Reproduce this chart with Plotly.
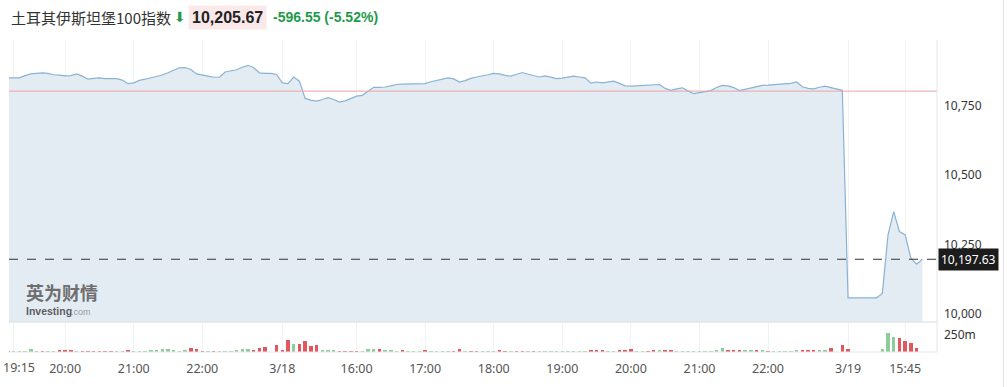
import plotly.graph_objects as go

# ---- data (5-minute bars, categorical positions) ----
price = [
    10850, 10849, 10850, 10858, 10864, 10866, 10868, 10866, 10861, 10860,
    10857, 10858, 10864, 10856, 10845, 10848, 10850, 10847, 10846, 10847,
    10842, 10829, 10832, 10841, 10845, 10850, 10854, 10860, 10868, 10876,
    10886, 10887, 10880, 10864, 10861, 10856, 10852, 10852, 10871, 10875,
    10879, 10888, 10895, 10886, 10868, 10866, 10866, 10862,
    # 3/18
    10832, 10829, 10853, 10838, 10776, 10770, 10766, 10772, 10779, 10772,
    10763, 10767, 10776, 10784, 10787, 10800, 10816, 10816, 10817, 10821,
    10826, 10827, 10828, 10828, 10829, 10829, 10836, 10840, 10845, 10850,
    10846, 10835, 10840, 10848, 10853, 10856, 10861, 10866, 10864, 10859,
    10856, 10863, 10869, 10863, 10857, 10853, 10857, 10851, 10847, 10849,
    10852, 10856, 10853, 10850, 10831, 10835, 10832, 10835, 10838, 10830,
    10821, 10820, 10821, 10822, 10822, 10825, 10826, 10812, 10805, 10810,
    10814, 10803, 10793, 10797, 10801, 10804, 10815, 10823, 10821, 10815,
    10804, 10809, 10814, 10818, 10823, 10824, 10826, 10827, 10828, 10830,
    10835, 10818, 10812, 10810, 10816, 10820, 10815, 10810, 10805,
    # 3/19
    10059, 10059, 10059, 10059, 10059, 10059, 10075, 10285, 10369, 10297,
    10285, 10201, 10180, 10197.63,
]

volume_m = [
    14, 6, 8, 14, 38, 10, 12, 10, 6, 24,
    29, 29, 8, 14, 14, 14, 12, 14, 12, 6,
    6, 33, 14, 14, 14, 24, 29, 38, 38, 33,
    10, 29, 57, 38, 14, 12, 14, 10, 12, 14,
    19, 38, 38, 29, 57, 72, 0, 105,
    # 3/18
    19, 181, 119, 119, 167, 86, 105, 19, 19, 19,
    14, 14, 12, 14, 12, 38, 48, 38, 19, 19,
    14, 24, 14, 12, 14, 24, 8, 6, 6, 6,
    12, 38, 8, 12, 14, 14, 12, 14, 19, 14,
    10, 14, 12, 14, 14, 6, 6, 6, 6, 5,
    5, 5, 5, 6, 29, 19, 19, 6, 6, 19,
    24, 38, 6, 10, 14, 19, 19, 24, 29, 8,
    6, 8, 6, 8, 10, 14, 29, 57, 33, 29,
    29, 24, 24, 19, 19, 14, 10, 8, 8, 10,
    24, 29, 29, 19, 24, 33, 55, 0, 100,
    # 3/19
    48, 0, 0, 0, 0, 0, 39, 286, 214, 204,
    157, 139, 53, 0,
]

# G = up bar, R = down bar (one letter per bar, grouped by 10)
direction = "".join([
    "RGGGGGRGGR", "RRGRRRRRRG", "GRGGGGGGGG", "GGRRRGRGGG", "GGGRRRRR",
    "RRGRRRRGGG", "RRRRGGGRGG", "GRGGGRGGGG", "RRGRRGGGRR", "GRRGRGGGGG",
    "GGGGRRRGGR", "RRGGRRGRRG", "GGGGGGGGRR", "RGGRGRGGGG", "GRRRGGRRR",
    "RGGGGGGGGR", "RRRR",
])

tick_idx = [1, 10, 22, 34, 48, 61, 73, 85, 97, 109, 121, 133, 147, 157]
tick_text = ["19:15", "20:00", "21:00", "22:00", "3/18", "16:00", "17:00",
             "18:00", "19:00", "20:00", "21:00", "22:00", "3/19", "15:45"]

price_ticks = [10000, 10250, 10500, 10750]
prev_close = 10802.22
last_price = 10197.63
header_price = "10,205.67"
header_change = "-596.55 (-5.52%)"
title = "土耳其伊斯坦堡100指数"

# ---- figure ----
W, H = 1007, 387
ML, MR, MT, MB = 9, 70, 40, 35
PW, PH = W - ML - MR, H - MT - MB
VOL_FRAC = 30 / PH

def px_x(px):
    return (px - ML) / PW

def px_y(py):
    return (H - MB - py) / PH

xs = list(range(len(price)))
UP, DOWN = "#8fcc9c", "#e0575f"
vol_colors = [UP if d == "G" else DOWN for d in direction]

fig = go.Figure()
fig.add_trace(go.Scatter(
    x=xs, y=price, mode="lines", fill="tozeroy",
    line=dict(color="#8ab2d6", width=1.2), fillcolor="#e4ecf3",
    xaxis="x", yaxis="y", hoverinfo="skip", showlegend=False,
))
fig.add_trace(go.Bar(
    x=xs, y=volume_m, marker=dict(color=vol_colors, line=dict(width=0)),
    width=0.6, xaxis="x", yaxis="y2", hoverinfo="skip", showlegend=False,
))

# the first tick label sits at the page edge: it is drawn as an annotation
axis_ticktext = [""] + tick_text[1:]

font = "Noto Sans, Noto Sans CJK SC, sans-serif"
fig.update_layout(
    width=W, height=H, autosize=False,
    margin=dict(l=ML, r=MR, t=MT, b=MB),
    paper_bgcolor="white", plot_bgcolor="white",
    font=dict(family=font, color="#333", size=12),
    bargap=0,
    xaxis=dict(
        domain=[0, 1], anchor="y2", range=[0.175, 162.57],
        tickmode="array", tickvals=tick_idx, ticktext=axis_ticktext,
        showgrid=True, gridcolor="#f1f2f4", gridwidth=1,
        zeroline=False, showline=False, ticks="",
        ticklabelstandoff=7, automargin=False,
        tickfont=dict(size=12.5, color="#555"),
    ),
    yaxis=dict(
        domain=[VOL_FRAC, 1], anchor="x", side="right",
        range=[9972, 10986], tickvals=price_ticks, tickformat=",",
        showgrid=False, zeroline=False, showline=False, ticks="",
        ticklabelstandoff=6, tickfont=dict(size=12, color="#333"),
    ),
    yaxis2=dict(
        domain=[0, VOL_FRAC], anchor="x", side="right",
        range=[0, 440], tickvals=[250], ticktext=["250m"],
        showgrid=False, zeroline=False, showline=False, ticks="",
        ticklabelstandoff=6, tickfont=dict(size=12, color="#333"),
    ),
)

shapes = [
    dict(type="line", xref="paper", yref="y", x0=0, x1=1, y0=prev_close, y1=prev_close,
         line=dict(color="#eaa3a6", width=1)),
    dict(type="line", xref="paper", yref="y", x0=0, x1=1, y0=last_price, y1=last_price,
         line=dict(color="#333", width=1, dash="dash")),
    dict(type="line", xref="paper", yref="paper", x0=0, x1=1, y0=VOL_FRAC, y1=VOL_FRAC,
         line=dict(color="#d5dbe2", width=1.2)),
    dict(type="line", xref="paper", yref="paper", x0=0, x1=1, y0=0, y1=0,
         line=dict(color="#e6e8eb", width=1)),
    dict(type="line", xref="paper", yref="paper", x0=1, x1=1, y0=0, y1=1,
         line=dict(color="#e3e5e8", width=1)),
    dict(type="line", xref="paper", yref="paper", x0=px_x(1003.5), x1=px_x(1003.5),
         y0=px_y(H), y1=px_y(0), line=dict(color="#e3e5e8", width=1)),
]
fig.update_layout(shapes=shapes)

ann = [
    dict(text=tick_text[0], xref="paper", yref="paper", x=px_x(1), y=px_y(367),
         xanchor="left", yanchor="middle", showarrow=False,
         font=dict(size=12.5, color="#555")),
    dict(text=title, xref="paper", yref="paper", x=px_x(9), y=px_y(17),
         xanchor="left", yanchor="middle", showarrow=False,
         font=dict(family="Noto Sans CJK SC, sans-serif", size=15, color="#333")),
    dict(text="⬇", xref="paper", yref="paper", x=px_x(180), y=px_y(17),
         xanchor="center", yanchor="middle", showarrow=False,
         font=dict(family="DejaVu Sans", size=14, color="#1f9a4a")),
    dict(text="<b>" + header_price + "</b>", xref="paper", yref="paper", x=px_x(188), y=px_y(17),
         xanchor="left", yanchor="middle", showarrow=False, bgcolor="#fbe9ea",
         borderpad=3,
         font=dict(family="Liberation Sans, Arial, sans-serif", size=16, color="#222")),
    dict(text="<b>" + header_change + "</b>", xref="paper", yref="paper", x=px_x(271), y=px_y(17),
         xanchor="left", yanchor="middle", showarrow=False,
         font=dict(family="Liberation Sans, Arial, sans-serif", size=14, color="#1f9a4a")),
    dict(text="{:,.2f}".format(last_price),
         xref="paper", yref="y", x=px_x(938), y=last_price,
         xanchor="left", yanchor="middle", showarrow=False, bgcolor="#1c1c1c",
         borderpad=2, font=dict(size=12, color="white")),
    dict(text="<b>英为财情</b>", xref="paper", yref="paper", x=px_x(24), y=px_y(292),
         xanchor="left", yanchor="middle", showarrow=False,
         font=dict(family="Noto Sans CJK SC, sans-serif", size=18, color="#6f6f6f")),
    dict(text="<b>Investing</b>", xref="paper", yref="paper", x=px_x(24), y=px_y(311),
         xanchor="left", yanchor="middle", showarrow=False,
         font=dict(family="Liberation Sans, Arial, sans-serif", size=10.5, color="#5e5e5e")),
    dict(text=".com", xref="paper", yref="paper", x=px_x(69), y=px_y(311.5),
         xanchor="left", yanchor="middle", showarrow=False,
         font=dict(family="Liberation Sans, Arial, sans-serif", size=9, color="#9a9a9a")),
]
fig.update_layout(annotations=ann)

fig.write_html("out.html")
